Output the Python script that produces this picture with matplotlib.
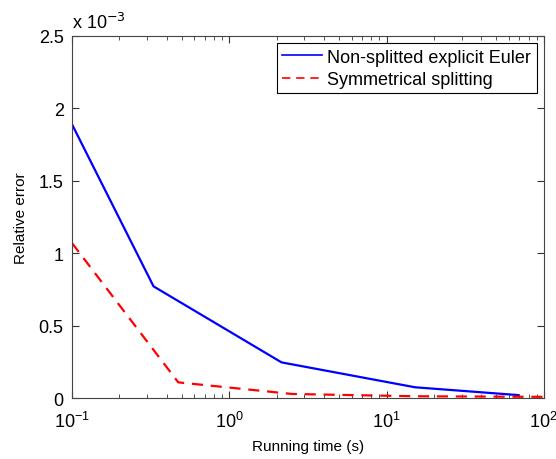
import matplotlib.pyplot as plt
from matplotlib.ticker import FuncFormatter, LogLocator

plt.rcParams['font.family'] = ['Liberation Sans', 'DejaVu Sans']

# running time (s) and relative error
t_euler = [0.1, 0.33, 2.15, 15.2, 69]
err_euler = [1.89e-3, 0.771e-3, 0.246e-3, 0.074e-3, 0.02e-3]

t_split = [0.1, 0.474, 2.5, 15, 100]
err_split = [1.07e-3, 0.108e-3, 0.028e-3, 0.012e-3, 0.008e-3]

labels = ["Non-splitted explicit Euler", "Symmetrical splitting"]

fig = plt.figure(figsize=(5.56, 4.6), dpi=100)
ax = fig.add_axes([0.1295, 0.1326, 0.8485, 0.787])

ax.plot(t_euler, err_euler, color='#0000ff', lw=1.6, label=labels[0])
ax.plot(t_split, err_split, color='#ff0000', lw=1.6, ls=(0, (5, 3.5)), label=labels[1])

ax.set_xscale('log')
ax.set_xlim(0.1, 100)
ax.set_ylim(0, 2.5e-3)
ax.set_yticks([0, 0.5e-3, 1e-3, 1.5e-3, 2e-3, 2.5e-3])
ax.yaxis.set_major_formatter(FuncFormatter(lambda v, p: f"{v*1e3:g}"))
ax.xaxis.set_major_locator(LogLocator(base=10, numticks=10))

ax.tick_params(which='both', direction='in', top=True, right=True, labelsize=13, colors='#333333', labelcolor='black')
ax.tick_params(which='major', length=5)
ax.tick_params(which='minor', length=3)
ax.tick_params(axis='y', pad=6)
ax.tick_params(axis='x', pad=9)
for s in ax.spines.values():
    s.set_color('#444444')

ax.set_xlabel("Running time (s)", fontsize=11, labelpad=6)
ax.set_ylabel("Relative error", fontsize=11, labelpad=8)
ax.text(0.0, 1.012, r"x 10$^{-3}$", transform=ax.transAxes, fontsize=13, ha='left', va='bottom')

leg = ax.legend(loc='upper right', fontsize=13, fancybox=False, framealpha=1,
                edgecolor='black', borderaxespad=0.4, handlelength=2.2,
                handletextpad=0.3, labelspacing=0.3, borderpad=0.3)
leg.get_frame().set_linewidth(0.8)
for h in leg.get_lines():
    h.set_linewidth(1.2)

fig.savefig("out.png", dpi=100)
